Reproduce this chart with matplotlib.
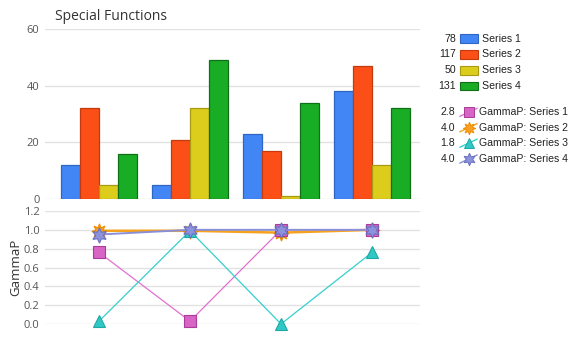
import matplotlib
matplotlib.use("Agg")
import matplotlib.pyplot as plt
import numpy as np
from matplotlib.patches import Rectangle
from matplotlib.lines import Line2D

categories = ["A", "B", "C", "D"]
series_names = ["Series 1", "Series 2", "Series 3", "Series 4"]
series1 = [12, 5, 23, 38]
series2 = [32, 21, 17, 47]
series3 = [5, 32, 1, 12]
series4 = [16, 49, 34, 32]
gamma1 = [0.76, 0.03, 1.00, 1.00]
gamma2 = [0.99, 0.99, 0.97, 1.00]
gamma3 = [0.03, 0.99, 0.00, 0.76]
gamma4 = [0.95, 1.00, 1.00, 1.00]
bar_ticks = [0, 20, 40, 60]
gamma_ticks = [0.0, 0.2, 0.4, 0.6, 0.8, 1.0, 1.2]

bar_series = [series1, series2, series3, series4]
gamma_series = [gamma1, gamma2, gamma3, gamma4]

bar_colors = ["#4286f5", "#fc4f17", "#dccd1d", "#19ad25"]
bar_edges = ["#2f66c4", "#c23a0e", "#a89a12", "#0f7018"]
line_colors = ["#e070cf", "#f5a21e", "#35d0cc", "#8a90d8"]
marker_faces = ["#d865c6", "#f7a321", "#2fc8c4", "#8c92dc"]
marker_edges = ["#a83c98", "#f08a00", "#1fa8a4", "#6a70c0"]
markers = ["s", (8, 1, 0), "^", (6, 1, 0)]
line_widths = [0.9, 1.8, 0.9, 1.4]
marker_sizes = [8, 11, 9, 11]
legend_marker_sizes = [6.5, 9, 7.5, 9]

W, H = 578, 338
fig = plt.figure(figsize=(W / 100, H / 100), dpi=100)
fig.patch.set_facecolor("white")

def fx(px):
    return px / W

def fy(py):
    return 1 - py / H

left_px, right_px = 45, 420
ax1 = fig.add_axes([fx(left_px), fy(199), fx(right_px - left_px), (199 - 29) / H])
ax2 = fig.add_axes([fx(left_px), fy(324), fx(right_px - left_px), (324 - 211) / H])

step = 91.0
xmin = -(99 - left_px) / step
xmax = 3 + (right_px - 372) / step
x = np.arange(len(categories))

grid_color = "#e2e2e2"
tick_color = "#555555"
tick_font = "Open Sans"

bw = 0.208
for i, vals in enumerate(bar_series):
    ax1.bar(x + (i - 1.5) * bw, vals, width=bw, color=bar_colors[i],
            edgecolor=bar_edges[i], linewidth=0.9, zorder=3)

ax1.set_xlim(xmin, xmax)
ax1.set_ylim(0, 60)
ax1.set_yticks(bar_ticks)

order = [1, 0, 2, 3]
for k, i in enumerate(order):
    ax2.plot(x, gamma_series[i], color=line_colors[i], linewidth=line_widths[i],
             marker=markers[i], markersize=marker_sizes[i],
             markerfacecolor=marker_faces[i], markeredgecolor=marker_edges[i],
             markeredgewidth=0.8, zorder=3 + k, clip_on=False)

ax2.set_xlim(xmin, xmax)
ax2.set_ylim(0, 1.2)
ax2.set_yticks(gamma_ticks)
ax2.set_yticklabels([f"{t:.1f}" for t in gamma_ticks])

for ax in (ax1, ax2):
    for s in ax.spines.values():
        s.set_visible(False)
    ax.set_xticks([])
    ax.yaxis.grid(True, color=grid_color, linewidth=1.0, zorder=0)
    ax.set_axisbelow(True)
    ax.tick_params(axis="y", length=0, pad=4, labelsize=8, labelcolor=tick_color)
    for lbl in ax.get_yticklabels():
        lbl.set_fontfamily(tick_font)
    ax.patch.set_alpha(0)

ax2.set_ylabel("GammaP", fontsize=9.5, color="#333333", fontfamily=tick_font, labelpad=1)

fig.text(fx(55), fy(16), "Special Functions", fontsize=10, color="#333333",
         fontfamily=tick_font, ha="left", va="center")

# Legend
leg_font = "Liberation Sans"
leg_size = 7.6
bar_rows = [38.5, 54.3, 70.2, 86.0]
for i, vals in enumerate(bar_series):
    yy = bar_rows[i]
    fig.text(fx(456), fy(yy), f"{sum(vals):d}", fontsize=leg_size, color="#222222",
             fontfamily=leg_font, ha="right", va="center")
    fig.patches.append(Rectangle((fx(459.5), fy(yy + 4.3)), fx(18), 8.6 / H,
                                 transform=fig.transFigure, facecolor=bar_colors[i],
                                 edgecolor=bar_edges[i], linewidth=0.8))
    fig.text(fx(482), fy(yy), series_names[i], fontsize=leg_size, color="#222222",
             fontfamily=leg_font, ha="left", va="center")

gamma_rows = [112.3, 127.7, 143.2, 159.0]
for i, vals in enumerate(gamma_series):
    yy = gamma_rows[i]
    fig.text(fx(455), fy(yy), f"{sum(vals):.1f}", fontsize=leg_size, color="#222222",
             fontfamily=leg_font, ha="right", va="center")
    fig.lines.append(Line2D([fx(460), fx(477)], [fy(yy + 4), fy(yy - 4)],
                            transform=fig.transFigure, color=line_colors[i],
                            linewidth=1.0))
    fig.lines.append(Line2D([fx(468.5)], [fy(yy)], transform=fig.transFigure,
                            marker=markers[i], markersize=legend_marker_sizes[i],
                            markerfacecolor=marker_faces[i], markeredgecolor=marker_edges[i],
                            markeredgewidth=0.7, linestyle="none"))
    fig.text(fx(479), fy(yy), "GammaP: " + series_names[i], fontsize=leg_size, color="#222222",
             fontfamily=leg_font, ha="left", va="center")

fig.savefig("out.png", dpi=100, facecolor="white")
